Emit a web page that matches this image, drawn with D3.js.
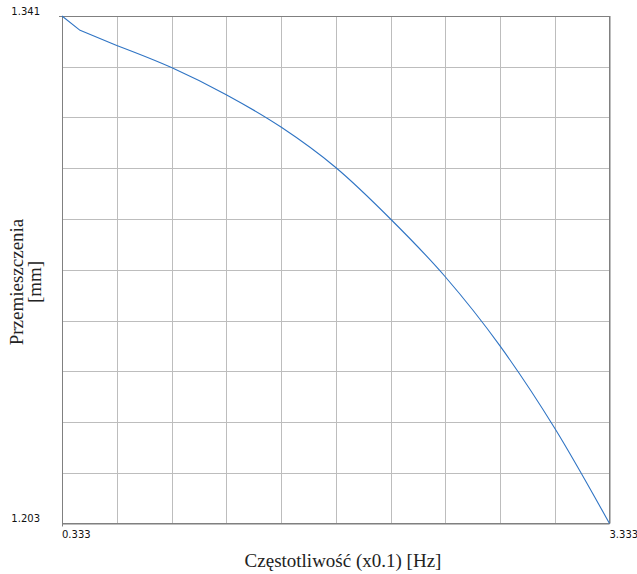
<!DOCTYPE html>
<html><head><meta charset="utf-8">
<script src="https://cdn.jsdelivr.net/npm/d3@7"></script>
<style>body{margin:0;background:#fff}svg{display:block}</style>
</head><body>
<svg id="c" width="637" height="574"></svg>
<script>
const xVals = [0.333, 0.432, 0.633, 0.933, 1.233, 1.533, 1.833, 2.133, 2.433, 2.733, 3.033, 3.333];
const yVals = [1.341, 1.3371, 1.3330, 1.3270, 1.3196, 1.3108, 1.2998, 1.2858, 1.2701, 1.2513, 1.2289, 1.203];
const xTickLabels = ["0.333", "3.333"];
const yTickLabels = ["1.203", "1.341"];
const xTitle = "Częstotliwość (x0.1) [Hz]";
const yTitle = ["Przemieszczenia", "[mm]"];

const svg = d3.select("#c");
const L = 62, R = 609.5, T = 16, B = 523.5;
const x = d3.scaleLinear().domain([0.333, 3.333]).range([L, R]);
const y = d3.scaleLinear().domain([1.203, 1.341]).range([B, T]);

const xGrid = d3.range(11).map(i => 0.333 + i * 0.3);
const yGrid = d3.range(11).map(i => 1.203 + i * 0.0138);

const g = svg.append("g");
g.selectAll("line.vx").data(xGrid).join("line")
  .attr("x1", d => Math.round(x(d)) + 0.5).attr("x2", d => Math.round(x(d)) + 0.5)
  .attr("y1", T).attr("y2", B).attr("stroke", "#bdbdbd").attr("stroke-width", 1);
g.selectAll("line.hy").data(yGrid).join("line")
  .attr("y1", d => Math.round(y(d)) + 0.5).attr("y2", d => Math.round(y(d)) + 0.5)
  .attr("x1", L).attr("x2", R).attr("stroke", "#bdbdbd").attr("stroke-width", 1);

svg.append("rect").attr("x", L + 0.5).attr("y", T + 0.5)
  .attr("width", Math.round(R - L) - 1).attr("height", Math.round(B - T) - 1)
  .attr("fill", "none").attr("stroke", "#808080").attr("stroke-width", 1);

svg.append("line").attr("x1", L + 0.5).attr("x2", L + 0.5).attr("y1", B).attr("y2", B + 3).attr("stroke", "#808080");
svg.append("line").attr("x1", L - 3).attr("x2", L).attr("y1", T + 0.5).attr("y2", T + 0.5).attr("stroke", "#808080");

const pts = xVals.map((v, i) => [v, yVals[i]]);
const lin = d3.line().x(d => x(d[0])).y(d => y(d[1]));
const smooth = d3.line().x(d => x(d[0])).y(d => y(d[1])).curve(d3.curveMonotoneX);
const d1 = lin(pts.slice(0, 3));
const d2 = smooth(pts.slice(2));
svg.append("path").attr("d", d1 + d2.replace(/^M/, "L"))
  .attr("fill", "none").attr("stroke", "#2f74c4").attr("stroke-width", 1.1)
  .attr("stroke-linejoin", "round");

const tf = "Tahoma, 'DejaVu Sans', Verdana, sans-serif";
svg.append("text").attr("x", L).attr("y", 537.5).attr("font-family", tf).attr("font-size", 10)
  .attr("fill", "#111").text(xTickLabels[0]);
svg.append("text").attr("x", R).attr("y", 537.5).attr("font-family", tf).attr("font-size", 10)
  .attr("fill", "#111").text(xTickLabels[1]);
svg.append("text").attr("x", 40).attr("y", 522).attr("text-anchor", "end").attr("font-family", tf).attr("font-size", 10)
  .attr("fill", "#111").text(yTickLabels[0]);
svg.append("text").attr("x", 40).attr("y", 15).attr("text-anchor", "end").attr("font-family", tf).attr("font-size", 10)
  .attr("fill", "#111").text(yTickLabels[1]);

const sf = "'Liberation Serif', 'Times New Roman', serif";
svg.append("text").attr("x", 343).attr("y", 567).attr("text-anchor", "middle")
  .attr("font-family", sf).attr("font-size", 19).attr("fill", "#222").text(xTitle);

const yt = svg.append("text").attr("transform", "translate(23,282) rotate(-90)")
  .attr("text-anchor", "middle").attr("font-family", sf).attr("font-size", 19).attr("fill", "#222");
yt.append("tspan").attr("x", 0).attr("y", 0).text(yTitle[0]);
yt.append("tspan").attr("x", 0).attr("y", 18).text(yTitle[1]);
</script>
</body></html>
